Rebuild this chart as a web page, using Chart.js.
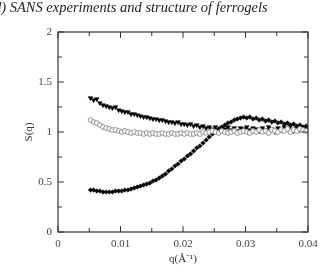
<!DOCTYPE html>
<html lang="en">
<head>
  <meta charset="UTF-8">
  <title>SANS S(q)</title>
  <script src="https://cdn.jsdelivr.net/npm/chart.js"></script>
  <style>
    body { margin: 0; background: #fff; }
    #wrap { position: relative; width: 329px; height: 267px; overflow: hidden; }
    #head {
      position: absolute; left: -6px; top: -1px;
      font: italic 14.5px "Liberation Serif", serif; color: #222; white-space: nowrap;
    }
  </style>
</head>
<body>
<div id="wrap">
  <div id="head">d) SANS experiments and structure of ferrogels</div>
  <canvas id="c" width="329" height="267"></canvas>
</div>
<script>
const qValues = [0.0052,0.0057,0.0062,0.0067,0.0072,0.0077,0.0082,0.0087,0.0092,0.0097,
  0.0102,0.0107,0.0112,0.0117,0.0122,0.0127,0.0132,0.0137,0.0142,0.0147,
  0.0152,0.0157,0.0162,0.0167,0.0172,0.0177,0.0182,0.0187,0.0192,0.0197,
  0.0202,0.0207,0.0212,0.0217,0.0222,0.0227,0.0232,0.0237,0.0242,0.0247,
  0.0252,0.0257,0.0262,0.0267,0.0272,0.0277,0.0282,0.0287,0.0292,0.0297,
  0.0302,0.0307,0.0312,0.0317,0.0322,0.0327,0.0332,0.0337,0.0342,0.0347,
  0.0352,0.0357,0.0362,0.0367,0.0372,0.0377,0.0382,0.0387,0.0392,0.0397];

const triangles = [1.34,1.32,1.33,1.29,1.27,1.26,1.25,1.24,1.25,1.22,
  1.21,1.20,1.20,1.18,1.18,1.17,1.16,1.15,1.15,1.14,
  1.13,1.13,1.12,1.12,1.11,1.10,1.10,1.09,1.10,1.08,
  1.08,1.07,1.08,1.06,1.07,1.05,1.06,1.04,1.05,1.03,
  1.05,1.02,1.04,1.03,1.05,1.02,1.04,1.01,1.04,1.03,
  1.05,1.02,1.04,1.03,1.01,1.04,1.02,1.05,1.03,1.00,
  1.04,1.02,1.05,1.03,1.06,1.01,1.04,1.02,1.05,1.03];

const circles = [1.12,1.10,1.09,1.07,1.05,1.04,1.03,1.02,1.02,1.01,
  1.00,1.01,1.00,0.99,1.00,0.99,0.99,0.98,0.99,0.98,
  0.99,0.98,0.98,0.99,0.98,0.98,0.99,0.98,0.98,0.99,
  0.98,0.99,0.98,0.98,0.99,0.98,1.00,0.99,1.00,1.01,
  1.00,0.99,1.01,1.00,0.99,1.00,1.01,0.99,1.00,1.01,
  1.00,0.99,1.01,1.00,1.02,1.00,1.01,0.99,1.02,1.01,
  1.00,1.02,1.01,1.03,1.00,1.02,1.01,1.03,1.02,1.01];

const diamonds = [0.42,0.42,0.41,0.41,0.40,0.40,0.40,0.40,0.41,0.41,
  0.41,0.42,0.42,0.43,0.44,0.45,0.46,0.47,0.48,0.49,
  0.51,0.52,0.54,0.56,0.58,0.61,0.63,0.66,0.68,0.71,
  0.73,0.76,0.78,0.81,0.84,0.86,0.89,0.92,0.95,0.98,
  1.00,1.03,1.05,1.07,1.09,1.10,1.12,1.13,1.14,1.15,
  1.14,1.15,1.13,1.14,1.12,1.13,1.11,1.12,1.10,1.11,
  1.09,1.10,1.08,1.09,1.07,1.08,1.06,1.07,1.05,1.06];

const xTicks = [0, 0.01, 0.02, 0.03, 0.04];
const yTicks = [0, 0.5, 1, 1.5, 2];
const xTitle = 'q(Å⁻¹)';
const yTitle = 'S(q)';

const pts = arr => arr.map((y, i) => ({ x: qValues[i], y }));
const serif = '"Liberation Serif", "Times New Roman", serif';

// box frame with inward major + minor ticks, plus axis titles
const frame = {
  id: 'frame',
  afterDraw(chart) {
    const { ctx, chartArea: a, scales: { x, y } } = chart;
    ctx.save();
    ctx.strokeStyle = '#333';
    ctx.lineWidth = 1.2;
    ctx.strokeRect(a.left, a.top, a.right - a.left, a.bottom - a.top);
    ctx.lineWidth = 1;
    for (let v = 0; v <= 0.04001; v += 0.005) {
      const px = x.getPixelForValue(v);
      const len = Math.abs(v / 0.01 - Math.round(v / 0.01)) < 1e-6 ? 6 : 4;
      ctx.beginPath();
      ctx.moveTo(px, a.bottom); ctx.lineTo(px, a.bottom - len);
      ctx.moveTo(px, a.top); ctx.lineTo(px, a.top + len);
      ctx.stroke();
    }
    for (let v = 0; v <= 2.001; v += 0.25) {
      const py = y.getPixelForValue(v);
      const len = Math.abs(v / 0.5 - Math.round(v / 0.5)) < 1e-6 ? 6 : 4;
      ctx.beginPath();
      ctx.moveTo(a.left, py); ctx.lineTo(a.left + len, py);
      ctx.moveTo(a.right, py); ctx.lineTo(a.right - len, py);
      ctx.stroke();
    }
    ctx.fillStyle = '#333';
    ctx.font = '11px ' + serif;
    ctx.textAlign = 'center';
    ctx.textBaseline = 'middle';
    ctx.fillText(xTitle, (a.left + a.right) / 2, 259);
    ctx.translate(29, (a.top + a.bottom) / 2);
    ctx.rotate(-Math.PI / 2);
    ctx.fillText(yTitle, 0, 0);
    ctx.restore();
  }
};

new Chart(document.getElementById('c'), {
  type: 'scatter',
  data: {
    datasets: [
      { label: 'circles', data: pts(circles), pointStyle: 'circle', pointRadius: 2.4,
        borderColor: '#888', backgroundColor: '#fff', borderWidth: 0.9 },
      { label: 'diamonds', data: pts(diamonds), pointStyle: 'rectRot', pointRadius: 2.3,
        borderColor: '#000', backgroundColor: '#000', borderWidth: 0.5 },
      { label: 'triangles', data: pts(triangles), pointStyle: 'triangle', rotation: 180,
        pointRadius: 2.7, borderColor: '#000', backgroundColor: '#000', borderWidth: 0.5 }
    ]
  },
  options: {
    responsive: false,
    animation: false,
    events: [],
    layout: { padding: { left: 0, top: 32, right: 21, bottom: 0 } },
    plugins: { legend: { display: false }, tooltip: { enabled: false } },
    scales: {
      x: {
        type: 'linear', min: 0, max: 0.04,
        afterBuildTicks: s => { s.ticks = xTicks.map(v => ({ value: v })); },
        afterFit: s => { s.height = 35; },
        grid: { display: false, drawTicks: false },
        border: { display: false },
        ticks: { color: '#444', font: { family: serif, size: 11 }, padding: 6,
          callback: v => String(v), maxRotation: 0 }
      },
      y: {
        min: 0, max: 2,
        afterBuildTicks: s => { s.ticks = yTicks.map(v => ({ value: v })); },
        afterFit: s => { s.width = 58; },
        grid: { display: false, drawTicks: false },
        border: { display: false },
        ticks: { color: '#444', font: { family: serif, size: 11 }, padding: 6,
          callback: v => String(v) }
      }
    }
  },
  plugins: [frame]
});
</script>
</body>
</html>
